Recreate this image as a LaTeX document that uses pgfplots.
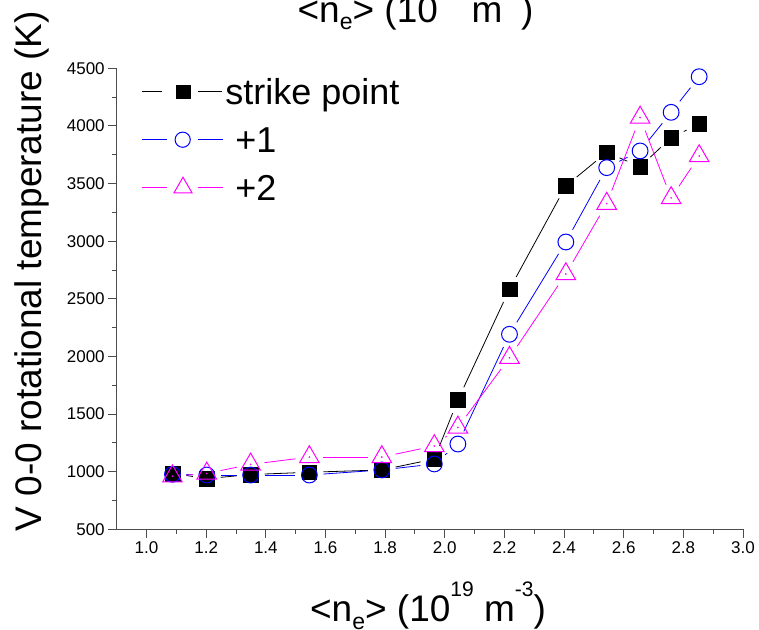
\documentclass[border=0pt]{standalone}
\usepackage{fontspec}
\setmainfont{Liberation Sans}
\usepackage{pgfplots}
\pgfplotsset{compat=1.18}
\usepackage{pgfplotstable}

\definecolor{myblue}{RGB}{0,0,255}
\definecolor{mymag}{RGB}{255,0,255}

\newcommand{\sups}[1]{\raisebox{0.68em}{\fontsize{21}{21}\selectfont #1}}
\newcommand{\nelabel}{<n\raisebox{-0.2em}{\fontsize{23}{23}\selectfont e}> (10\sups{19} m\sups{-3})}

\pgfplotstableread{
x y
1.087 985
1.202 940
1.349 975
1.546 995
1.789 1015
1.965 1110
2.044 1622
2.217 2583
2.406 3479
2.543 3771
2.655 3646
2.759 3898
2.853 4017
}\sqdata
\pgfplotstableread{
x y xn yn
1.087 985 1.202 940
1.202 940 1.349 975
1.349 975 1.546 995
1.546 995 1.789 1015
1.789 1015 1.965 1110
1.965 1110 2.044 1622
2.044 1622 2.217 2583
2.217 2583 2.406 3479
2.406 3479 2.543 3771
2.543 3771 2.655 3646
2.655 3646 2.759 3898
2.759 3898 2.853 4017
}\sqseg

\pgfplotstableread{
x y
1.087 977
1.202 971
1.349 971
1.546 971
1.789 1015
1.965 1067
2.044 1240
2.217 2192
2.406 2993
2.543 3638
2.655 3783
2.759 4118
2.853 4427
}\cidata
\pgfplotstableread{
x y xn yn
1.087 977 1.202 971
1.202 971 1.349 971
1.349 971 1.546 971
1.546 971 1.789 1015
1.789 1015 1.965 1067
1.965 1067 2.044 1240
2.044 1240 2.217 2192
2.217 2192 2.406 2993
2.406 2993 2.543 3638
2.543 3638 2.655 3783
2.655 3783 2.759 4118
2.759 4118 2.853 4427
}\ciseg

\pgfplotstableread{
x y
1.087 960
1.202 985
1.349 1063
1.546 1127
1.789 1127
1.965 1223
2.044 1384
2.217 1989
2.406 2715
2.543 3326
2.655 4073
2.759 3375
2.853 3739
}\trdata
\pgfplotstableread{
x y xn yn
1.087 960 1.202 985
1.202 985 1.349 1063
1.349 1063 1.546 1127
1.546 1127 1.789 1127
1.789 1127 1.965 1223
1.965 1223 2.044 1384
2.044 1384 2.217 1989
2.217 1989 2.406 2715
2.406 2715 2.543 3326
2.543 3326 2.655 4073
2.655 4073 2.759 3375
2.759 3375 2.853 3739
}\trseg

\pgfplotsset{
  seg/.style={no markers, line width=0.8pt, forget plot,
    quiver={u=\thisrow{xn}-\thisrow{x}, v=\thisrow{yn}-\thisrow{y},
      every arrow/.append style={-, shorten <=14pt, shorten >=14pt}}},
}

\begin{document}
\begin{tikzpicture}
\useasboundingbox (0,0) rectangle (759pt,629pt);
\clip (0,0) rectangle (759pt,629pt);
\begin{axis}[
  at={(116.7pt,99.7pt)}, anchor=south west,
  scale only axis, width=626.3pt, height=461pt,
  xmin=0.9, xmax=3.0, ymin=500, ymax=4500,
  axis x line*=bottom, axis y line*=left,
  axis line style={-, draw=black!70, line width=1pt},
  xtick={1,1.2,1.4,1.6,1.8,2,2.2,2.4,2.6,2.8,3},
  ytick={500,1000,1500,2000,2500,3000,3500,4000,4500},
  minor x tick num=1, minor y tick num=1,
  tick align=outside, major tick length=8.5pt, minor tick length=4.5pt,
  tick style={draw=black!70, line width=0.9pt},
  xticklabel style={/pgf/number format/.cd, fixed, fixed zerofill, precision=1},
  yticklabel style={/pgf/number format/.cd, 1000 sep={}},
  tick label style={font=\fontsize{17}{20}\selectfont},
  /pgf/number format/assume math mode=true,
  xlabel={\nelabel},
  xlabel style={at={(axis description cs:0.4971,-0.2004)}, anchor=base, font=\fontsize{37}{44}\selectfont},
  ylabel={V 0-0 rotational temperature (K)},
  ylabel style={at={(axis description cs:-0.1193,0.560)}, anchor=base, font=\fontsize{37}{44}\selectfont},
  clip=false,
  legend cell align=left,
  legend style={draw=none, fill=none, inner sep=0pt, outer sep=0pt,
    at={(axis description cs:0.0399,0.9861)}, anchor=north west,
    row sep=14pt, column sep=2pt,
    /tikz/every even column/.style={column sep=0pt},
    /tikz/every odd column/.style={column sep=2pt},
    nodes={inner sep=0pt, text height=30pt, text depth=4pt},
    font=\fontsize{36}{42}\selectfont},
]
\addplot[seg, black] table {\sqseg};
\addplot[only marks, black, mark=square*, mark size=7.3pt,
  legend image code/.code={
    \fill[black, draw=none] (0pt,-0.5pt) rectangle (20pt,0.5pt);
    \fill[black, draw=none] (56pt,-0.5pt) rectangle (80pt,0.5pt);
    \draw[black, mark size=6.6pt, only marks, mark=square*] plot coordinates {(41.6pt,0pt)};
  }] table {\sqdata};
\addlegendentry{strike point}

\addplot[seg, myblue] table {\ciseg};
\addplot[only marks, myblue, mark=o, mark size=7.9pt, mark options={line width=1pt},
  legend image code/.code={
    \fill[myblue, draw=none] (0pt,-0.5pt) rectangle (25pt,0.5pt);
    \fill[myblue, draw=none] (56.6pt,-0.5pt) rectangle (81.6pt,0.5pt);
    \draw[myblue, mark size=7.6pt, line width=1pt, only marks, mark=o] plot coordinates {(41pt,0pt)};
  }] table {\cidata};
\addlegendentry{\ +1}

\addplot[seg, mymag] table {\trseg};
\addplot[only marks, mymag, mark=triangle, mark size=11.3pt, mark options={line width=1pt},
  legend image code/.code={
    \fill[mymag, draw=none] (0pt,-0.5pt) rectangle (25pt,0.5pt);
    \fill[mymag, draw=none] (56.6pt,-0.5pt) rectangle (81.6pt,0.5pt);
    \draw[mymag, mark size=10.5pt, line width=1pt, only marks, mark=triangle] plot coordinates {(41.3pt,0pt)};
  }] table {\trdata};
\addlegendentry{\ +2}
\addplot[only marks, mymag, mark=*, mark size=0.6pt, forget plot] table {\trdata};

\node[anchor=base, font=\fontsize{37}{44}\selectfont] at (axis description cs:0.4771,1.1004) {\nelabel};
\end{axis}
\end{tikzpicture}
\end{document}
